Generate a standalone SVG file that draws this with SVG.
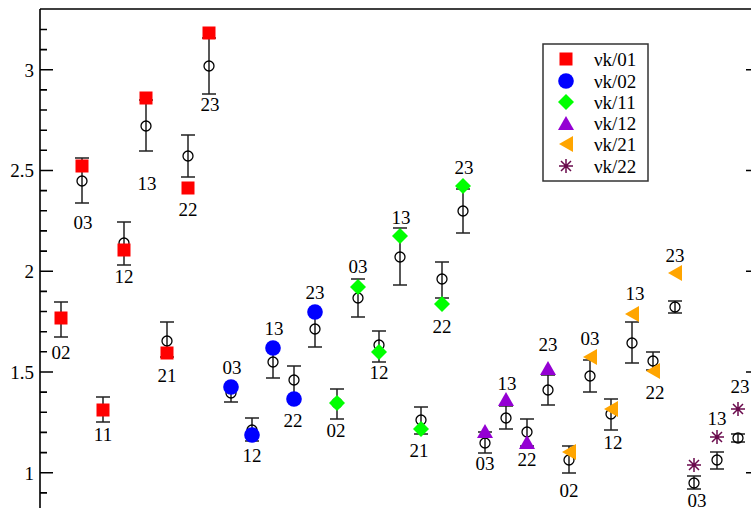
<svg xmlns="http://www.w3.org/2000/svg" width="751" height="508" viewBox="0 0 751 508">
<style>
text{font-family:"Liberation Serif","Nimbus Roman","DejaVu Serif",serif;font-size:19px;fill:#000}
.lab{text-anchor:middle}
.tl{text-anchor:end}
.ax{stroke:#000;stroke-width:1.6;fill:none}
.err{stroke:#222;stroke-width:1.5;fill:none}
.oc{fill:none;stroke:#000;stroke-width:1.3}
.r{fill:#ff0000}.b{fill:#0000ff}.g{fill:#00ff00}.v{fill:#9400d3}.o{fill:#ffa500}
.m{stroke:#6a0a4c;stroke-width:1.5;fill:none}
</style>
<defs>
<rect id="sq" x="-6.5" y="-6.5" width="13" height="13"/>
<circle id="ci" r="7.8"/>
<path id="di" d="M0 -8L8 0L0 8L-8 0Z"/>
<path id="tr" d="M0 -7L8 7L-8 7Z"/>
<path id="lt" d="M-7 0L7 -8L7 8Z"/>
<path id="st" d="M-7 0H7M0 -7V7M-5 -5L5 5M-5 5L5 -5"/>
</defs>
<rect width="751" height="508" fill="#fff"/>
<g font-family="Liberation Serif, DejaVu Serif, serif" font-size="19" fill="#000">
<g id="axes">
<path class="ax" d="M40 9V508M40 9H751"/>
<path class="ax" d="M40 69.7H53M40 170.5H53M40 271.2H53M40 372H53M40 472.7H53"/>
<path class="ax" d="M40 29.5H47M40 49.6H47M40 89.9H47M40 110H47M40 130.2H47M40 150.3H47M40 190.6H47M40 210.8H47M40 230.9H47M40 251.1H47M40 291.4H47M40 311.5H47M40 331.7H47M40 351.8H47M40 392.1H47M40 412.3H47M40 432.4H47M40 452.6H47M40 492.9H47"/>
<path class="ax" d="M746 69.7H751M746 170.5H751M746 271.2H751M746 372H751M746 472.7H751"/>
<text class="tl" x="34" y="76.5">3</text>
<text class="tl" x="34" y="177">2.5</text>
<text class="tl" x="34" y="278">2</text>
<text class="tl" x="34" y="378.5">1.5</text>
<text class="tl" x="34" y="479.5">1</text>
</g>
<g id="connectors"></g>
<g id="vk01">
<g id="vk01-02"><path class="err" d="M61 302V337M54 302H68M54 337H68"/><circle class="oc" cx="61" cy="318" r="5"/><use href="#sq" x="61" y="318" class="r"/><text class="lab" x="61" y="359">02</text></g>
<g id="vk01-03"><path class="err" d="M82 158V203M75 158H89M75 203H89"/><circle class="oc" cx="82" cy="181" r="5"/><use href="#sq" x="82" y="166" class="r"/><text class="lab" x="83" y="229">03</text></g>
<g id="vk01-11"><path class="err" d="M103 397V422M96 397H110M96 422H110"/><circle class="oc" cx="103" cy="410" r="5"/><use href="#sq" x="103" y="410" class="r"/><text class="lab" x="103" y="441">11</text></g>
<g id="vk01-12"><path class="err" d="M124 222V265M117 222H131M117 265H131"/><circle class="oc" cx="124" cy="243" r="5"/><use href="#sq" x="124" y="250" class="r"/><text class="lab" x="124" y="283">12</text></g>
<g id="vk01-13"><path class="err" d="M146 100V151M139 100H153M139 151H153"/><circle class="oc" cx="146" cy="126" r="5"/><use href="#sq" x="146" y="98" class="r"/><text class="lab" x="147" y="190">13</text></g>
<g id="vk01-21"><path class="err" d="M167 322V357M160 322H174M160 357H174"/><circle class="oc" cx="167" cy="341" r="5"/><use href="#sq" x="167" y="353" class="r"/><text class="lab" x="167" y="382">21</text></g>
<g id="vk01-22"><path class="err" d="M188 135V177M181 135H195M181 177H195"/><circle class="oc" cx="188" cy="156" r="5"/><use href="#sq" x="188" y="188" class="r"/><text class="lab" x="188" y="216">22</text></g>
<g id="vk01-23"><path class="err" d="M209 38V94M202 38H216M202 94H216"/><circle class="oc" cx="209" cy="66" r="5"/><use href="#sq" x="209" y="33" class="r"/><text class="lab" x="210" y="111">23</text></g>
</g>
<g id="vk02">
<g id="vk02-03"><path class="err" d="M231 385V402M224 385H238M224 402H238"/><circle class="oc" cx="231" cy="393" r="5"/><use href="#ci" x="231" y="387" class="b"/><text class="lab" x="232" y="374">03</text></g>
<g id="vk02-12"><path class="err" d="M252 418V441M245 418H259M245 441H259"/><circle class="oc" cx="252" cy="430" r="5"/><use href="#ci" x="252" y="435" class="b"/><text class="lab" x="252" y="462">12</text></g>
<g id="vk02-13"><path class="err" d="M273 350V378M266 350H280M266 378H280"/><circle class="oc" cx="273" cy="362" r="5"/><use href="#ci" x="273" y="348" class="b"/><text class="lab" x="274" y="335">13</text></g>
<g id="vk02-22"><path class="err" d="M294 366V399M287 366H301M287 399H301"/><circle class="oc" cx="294" cy="380" r="5"/><use href="#ci" x="294" y="399" class="b"/><text class="lab" x="293" y="427">22</text></g>
<g id="vk02-23"><path class="err" d="M315 312V347M308 312H322M308 347H322"/><circle class="oc" cx="315" cy="329" r="5"/><use href="#ci" x="315" y="312" class="b"/><text class="lab" x="315" y="299">23</text></g>
</g>
<g id="vk11">
<g id="vk11-02"><path class="err" d="M337 389V419M330 389H344M330 419H344"/><circle class="oc" cx="337" cy="403" r="5"/><use href="#di" x="337" y="403" class="g"/><text class="lab" x="336" y="437">02</text></g>
<g id="vk11-03"><path class="err" d="M358 279V317M351 279H365M351 317H365"/><circle class="oc" cx="358" cy="298" r="5"/><use href="#di" x="358" y="287" class="g"/><text class="lab" x="358" y="273">03</text></g>
<g id="vk11-12"><path class="err" d="M379 331V362M372 331H386M372 362H386"/><circle class="oc" cx="379" cy="345" r="5"/><use href="#di" x="379" y="352" class="g"/><text class="lab" x="379" y="379">12</text></g>
<g id="vk11-13"><path class="err" d="M400 228V285M393 228H407M393 285H407"/><circle class="oc" cx="400" cy="257" r="5"/><use href="#di" x="400" y="236" class="g"/><text class="lab" x="401" y="224">13</text></g>
<g id="vk11-21"><path class="err" d="M421 407V434M414 407H428M414 434H428"/><circle class="oc" cx="421" cy="420" r="5"/><use href="#di" x="421" y="429" class="g"/><text class="lab" x="419" y="457">21</text></g>
<g id="vk11-22"><path class="err" d="M442 262V298M435 262H449M435 298H449"/><circle class="oc" cx="442" cy="279" r="5"/><use href="#di" x="442" y="304" class="g"/><text class="lab" x="442" y="333">22</text></g>
<g id="vk11-23"><path class="err" d="M463 189V233M456 189H470M456 233H470"/><circle class="oc" cx="463" cy="211" r="5"/><use href="#di" x="463" y="186" class="g"/><text class="lab" x="464" y="174">23</text></g>
</g>
<g id="vk12">
<g id="vk12-03"><path class="err" d="M485 432V453M478 432H492M478 453H492"/><circle class="oc" cx="485" cy="443" r="5"/><use href="#tr" x="485" y="431" class="v"/><text class="lab" x="485" y="470">03</text></g>
<g id="vk12-13"><path class="err" d="M506 406V429M499 406H513M499 429H513"/><circle class="oc" cx="506" cy="418" r="5"/><use href="#tr" x="506" y="399" class="v"/><text class="lab" x="507" y="390">13</text></g>
<g id="vk12-22"><path class="err" d="M527 419V446M520 419H534M520 446H534"/><circle class="oc" cx="527" cy="432" r="5"/><use href="#tr" x="527" y="442" class="v"/><text class="lab" x="527" y="466">22</text></g>
<g id="vk12-23"><path class="err" d="M548 375V405M541 375H555M541 405H555"/><circle class="oc" cx="548" cy="390" r="5"/><use href="#tr" x="548" y="368" class="v"/><text class="lab" x="548" y="351">23</text></g>
</g>
<g id="vk21">
<g id="vk21-02"><path class="err" d="M569 446V473M562 446H576M562 473H576"/><circle class="oc" cx="569" cy="460" r="5"/><use href="#lt" x="569" y="452" class="o"/><text class="lab" x="569" y="497">02</text></g>
<g id="vk21-03"><path class="err" d="M590 360V392M583 360H597M583 392H597"/><circle class="oc" cx="590" cy="376" r="5"/><use href="#lt" x="590" y="357" class="o"/><text class="lab" x="590" y="345">03</text></g>
<g id="vk21-12"><path class="err" d="M611 399V430M604 399H618M604 430H618"/><circle class="oc" cx="611" cy="414" r="5"/><use href="#lt" x="611" y="409" class="o"/><text class="lab" x="613" y="449">12</text></g>
<g id="vk21-13"><path class="err" d="M632 322V363M625 322H639M625 363H639"/><circle class="oc" cx="632" cy="343" r="5"/><use href="#lt" x="632" y="314" class="o"/><text class="lab" x="635" y="300">13</text></g>
<g id="vk21-22"><path class="err" d="M653 352V370M646 352H660M646 370H660"/><circle class="oc" cx="653" cy="361" r="5"/><use href="#lt" x="653" y="371" class="o"/><text class="lab" x="655" y="399">22</text></g>
<g id="vk21-23"><path class="err" d="M675 301V313M668 301H682M668 313H682"/><circle class="oc" cx="675" cy="307" r="5"/><use href="#lt" x="675" y="273" class="o"/><text class="lab" x="675" y="262">23</text></g>
</g>
<g id="vk22">
<g id="vk22-03"><path class="err" d="M694 476V489M687 476H701M687 489H701"/><circle class="oc" cx="694" cy="483" r="5"/><use href="#st" x="694" y="465" class="m"/><text class="lab" x="697" y="507">03</text></g>
<g id="vk22-13"><path class="err" d="M717 452V469M710 452H724M710 469H724"/><circle class="oc" cx="717" cy="460" r="5"/><use href="#st" x="717" y="437" class="m"/><text class="lab" x="717" y="425">13</text></g>
<g id="vk22-23"><path class="err" d="M738 434V442M731 434H745M731 442H745"/><circle class="oc" cx="738" cy="438" r="5"/><use href="#st" x="738" y="409" class="m"/><text class="lab" x="740" y="393">23</text></g>
</g>
<g id="legend">
<rect x="543" y="44" width="105" height="137" fill="#fff" stroke="#333" stroke-width="1.5"/>
<use href="#sq" x="566" y="59" class="r"/><text x="594" y="65.5">νk/01</text>
<use href="#ci" x="566" y="81" class="b"/><text x="594" y="87.5">νk/02</text>
<use href="#di" x="566" y="102" class="g"/><text x="594" y="108.5">νk/11</text>
<use href="#tr" x="566" y="123" class="v"/><text x="594" y="129.5">νk/12</text>
<use href="#lt" x="566" y="144" class="o"/><text x="594" y="150.5">νk/21</text>
<use href="#st" x="566" y="166" class="m"/><text x="594" y="172.5">νk/22</text>
</g>
</g>
</svg>
